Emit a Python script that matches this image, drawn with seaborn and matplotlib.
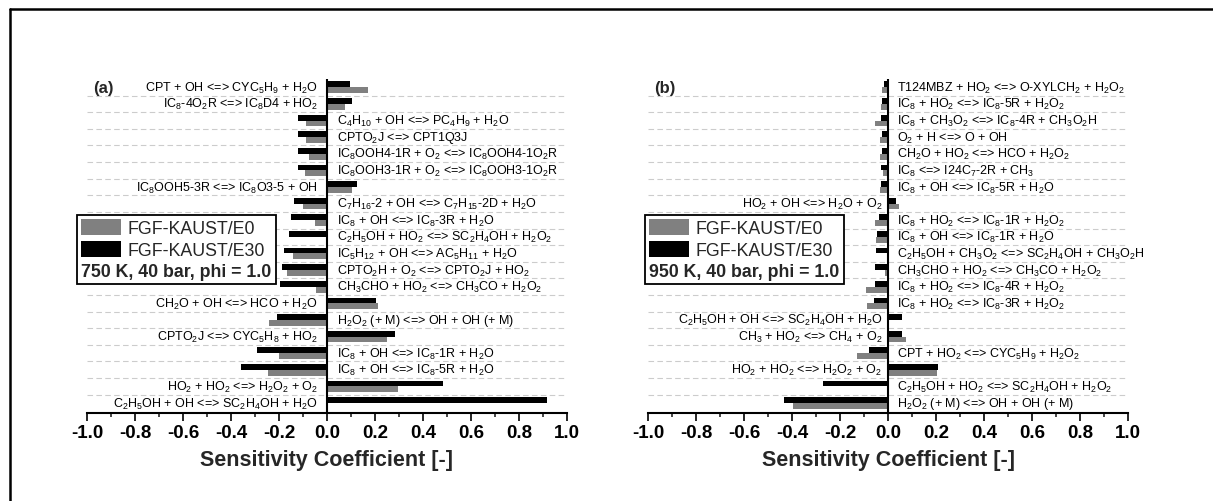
import re
import numpy as np
import pandas as pd
import matplotlib
matplotlib.use("Agg")
import matplotlib.pyplot as plt
from matplotlib.patches import Patch
from matplotlib.lines import Line2D
from matplotlib.ticker import FixedLocator, MultipleLocator, FormatStrFormatter
import seaborn as sns

# ---------------- data ----------------
labels_a = [
    "CPT + OH <=> CYC_5H_9 + H_2O",
    "IC_8-4O_2R <=> IC_8D4 + HO_2",
    "C_4H_10 + OH <=> PC_4H_9 + H_2O",
    "CPTO_2J <=> CPT1Q3J",
    "IC_8OOH4-1R + O_2 <=> IC_8OOH4-1O_2R",
    "IC_8OOH3-1R + O_2 <=> IC_8OOH3-1O_2R",
    "IC_8OOH5-3R <=> IC_8O3-5 + OH",
    "C_7H_16-2 + OH <=> C_7H_15-2D + H_2O",
    "IC_8 + OH <=> IC_8-3R + H_2O",
    "C_2H_5OH + HO_2 <=> SC_2H_4OH + H_2O_2",
    "IC_5H_12 + OH <=> AC_5H_11 + H_2O",
    "CPTO_2H + O_2 <=> CPTO_2J + HO_2",
    "CH_3CHO + HO_2 <=> CH_3CO + H_2O_2",
    "CH_2O + OH <=> HCO + H_2O",
    "H_2O_2 (+ M) <=> OH + OH (+ M)",
    "CPTO_2J <=> CYC_5H_8 + HO_2",
    "IC_8 + OH <=> IC_8-1R + H_2O",
    "IC_8 + OH <=> IC_8-5R + H_2O",
    "HO_2 + HO_2 <=> H_2O_2 + O_2",
    "C_2H_5OH + OH <=> SC_2H_4OH + H_2O",
]
e30_a = [0.096, 0.103, -0.120, -0.120, -0.120, -0.120, 0.124, -0.136, -0.151, -0.157,
         -0.179, -0.189, -0.196, 0.204, -0.210, 0.285, -0.290, -0.360, 0.482, 0.918]
e0_a = [0.170, 0.075, -0.087, -0.086, -0.074, -0.092, 0.103, -0.099, -0.050, 0.0,
        -0.143, -0.165, -0.047, 0.214, -0.240, 0.249, -0.202, -0.244, 0.297, 0.0]

labels_b = [
    "T124MBZ + HO_2 <=> O-XYLCH_2 + H_2O_2",
    "IC_8 + HO_2 <=> IC_8-5R + H_2O_2",
    "IC_8 + CH_3O_2 <=> IC_8-4R + CH_3O_2H",
    "O_2 + H <=> O + OH",
    "CH_2O + HO_2 <=> HCO + H_2O_2",
    "IC_8 <=> I24C_7-2R + CH_3",
    "IC_8 + OH <=> IC_8-5R + H_2O",
    "HO_2 + OH <=> H_2O + O_2",
    "IC_8 + HO_2 <=> IC_8-1R + H_2O_2",
    "IC_8 + OH <=> IC_8-1R + H_2O",
    "C_2H_5OH + CH_3O_2 <=> SC_2H_4OH + CH_3O_2H",
    "CH_3CHO + HO_2 <=> CH_3CO + H_2O_2",
    "IC_8 + HO_2 <=> IC_8-4R + H_2O_2",
    "IC_8 + HO_2 <=> IC_8-3R + H_2O_2",
    "C_2H_5OH + OH <=> SC_2H_4OH + H_2O",
    "CH_3 + HO_2 <=> CH_4 + O_2",
    "CPT + HO_2 <=> CYC_5H_9 + H_2O_2",
    "HO_2 + HO_2 <=> H_2O_2 + O_2",
    "C_2H_5OH + HO_2 <=> SC_2H_4OH + H_2O_2",
    "H_2O_2 (+ M) <=> OH + OH (+ M)",
]
e30_b = [-0.015, -0.025, -0.028, -0.026, -0.025, -0.028, -0.030, 0.032, -0.037, -0.044,
         -0.051, -0.054, -0.054, -0.058, 0.060, 0.060, -0.079, 0.210, -0.270, -0.434]
e0_b = [-0.025, -0.030, -0.054, -0.035, -0.035, -0.022, -0.035, 0.046, -0.054, -0.048,
        0.0, -0.012, -0.093, -0.086, 0.0, 0.077, -0.131, 0.203, 0.0, -0.395]

models = ["FGF-KAUST/E0", "FGF-KAUST/E30"]
conditions = ["750 K, 40 bar, phi = 1.0", "950 K, 40 bar, phi = 1.0"]
panel_tags = ["(a)", "(b)"]
xlabel = "Sensitivity Coefficient [-]"

# ---------------- style ----------------
sns.set_theme(style="white")
plt.rcParams["font.family"] = ["Liberation Sans", "DejaVu Sans"]
plt.rcParams["mathtext.fontset"] = "custom"
plt.rcParams["mathtext.rm"] = "Liberation Sans"
plt.rcParams["mathtext.default"] = "regular"
plt.rcParams["axes.unicode_minus"] = False

colors = {"FGF-KAUST/E0": "#808080", "FGF-KAUST/E30": "#000000"}


def fmt(s):
    return re.sub(r"_(\d+)", r"$_{\1}$", s)


W, H = 1213, 502
fig = plt.figure(figsize=(W / 100, H / 100), dpi=100)

panels = [
    dict(labels=labels_a, e30=e30_a, e0=e0_a, left=87, off=(-6.5, 7.0), leg=(77, 216)),
    dict(labels=labels_b, e30=e30_b, e0=e0_b, left=648, off=(-4.0, 6.5), leg=(645, 216)),
]

for k, p in enumerate(panels):
    ax = fig.add_axes([p["left"] / W, 1 - 414 / H, 480 / W, (414 - 80) / H])
    n = len(p["labels"])
    df = pd.DataFrame({
        "reaction": p["labels"] * 2,
        "model": [models[1]] * n + [models[0]] * n,
        "value": list(p["e30"]) + list(p["e0"]),
    })
    sns.barplot(data=df, x="value", y="reaction", hue="model", order=p["labels"],
                hue_order=[models[1], models[0]], palette=colors, orient="h",
                width=0.7, saturation=1, linewidth=0, legend=False, ax=ax)
    ax.set_axisbelow(True)
    ax.set_xlim(-1.0, 1.0)
    ax.set_ylim(n - 0.4, -0.5)
    ax.set_ylabel("")
    ax.yaxis.set_minor_locator(FixedLocator(np.arange(0.5, n - 1, 1.0)))
    ax.grid(False)
    ax.grid(which="minor", axis="y", linestyle=(0, (5, 3)), color="#cccccc", linewidth=0.8)
    ax.tick_params(axis="y", which="both", left=False, right=False, labelleft=False)
    ax.xaxis.set_major_locator(MultipleLocator(0.2))
    ax.xaxis.set_minor_locator(MultipleLocator(0.1))
    ax.xaxis.set_major_formatter(FormatStrFormatter("%.1f"))
    ax.tick_params(axis="x", which="major", direction="out", length=6, width=1.2,
                   bottom=True, labelsize=13.5, pad=2, colors="black")
    ax.tick_params(axis="x", which="minor", direction="out", length=3, width=1.2, bottom=True)
    for lab in ax.get_xticklabels():
        lab.set_fontweight("bold")
    for s in ["left", "right", "top"]:
        ax.spines[s].set_visible(False)
    ax.spines["bottom"].set_linewidth(1.5)
    ax.spines["bottom"].set_color("black")
    ax.axvline(0, color="black", linewidth=1.5, zorder=3)
    ax.set_xlabel(xlabel, fontsize=15.5, fontweight="bold", labelpad=6)

    for i, (lab, v) in enumerate(zip(p["labels"], p["e30"])):
        if v >= 0:
            ax.annotate(fmt(lab), xy=(0, i), xytext=(p["off"][0], 0), textcoords="offset points",
                        ha="right", va="center", fontsize=9, color="black")
        else:
            ax.annotate(fmt(lab), xy=(0, i), xytext=(p["off"][1], 0), textcoords="offset points",
                        ha="left", va="center", fontsize=9, color="black")

    ax.text(-0.975, 0, panel_tags[k], fontsize=12, fontweight="bold", ha="left", va="center")

    handles = [Patch(facecolor=colors[m], edgecolor="none", linewidth=0, label=m) for m in models]
    leg = fig.legend(handles=handles, loc="upper left",
                     bbox_to_anchor=(p["leg"][0] / W, 1 - p["leg"][1] / H),
                     bbox_transform=fig.transFigure, borderaxespad=0,
                     title=conditions[k], title_fontproperties=dict(weight="bold", size=12.8),
                     alignment="left", fontsize=12.8, frameon=True, fancybox=False,
                     edgecolor="black", framealpha=1, handlelength=2.2, handleheight=1.0,
                     labelspacing=0.2, handletextpad=0.4, borderpad=0.25)
    leg.get_frame().set_linewidth(1.3)
    box = leg._legend_box
    box._children = box._children[::-1]

# outer frame (top and left edges)
fig.add_artist(Line2D([10 / W, 1.05], [1 - 10 / H, 1 - 10 / H], transform=fig.transFigure,
                      color="black", linewidth=1.8))
fig.add_artist(Line2D([10 / W, 10 / W], [-0.05, 1 - 10 / H], transform=fig.transFigure,
                      color="black", linewidth=1.8))

fig.savefig("out.png", dpi=100, facecolor="white")
